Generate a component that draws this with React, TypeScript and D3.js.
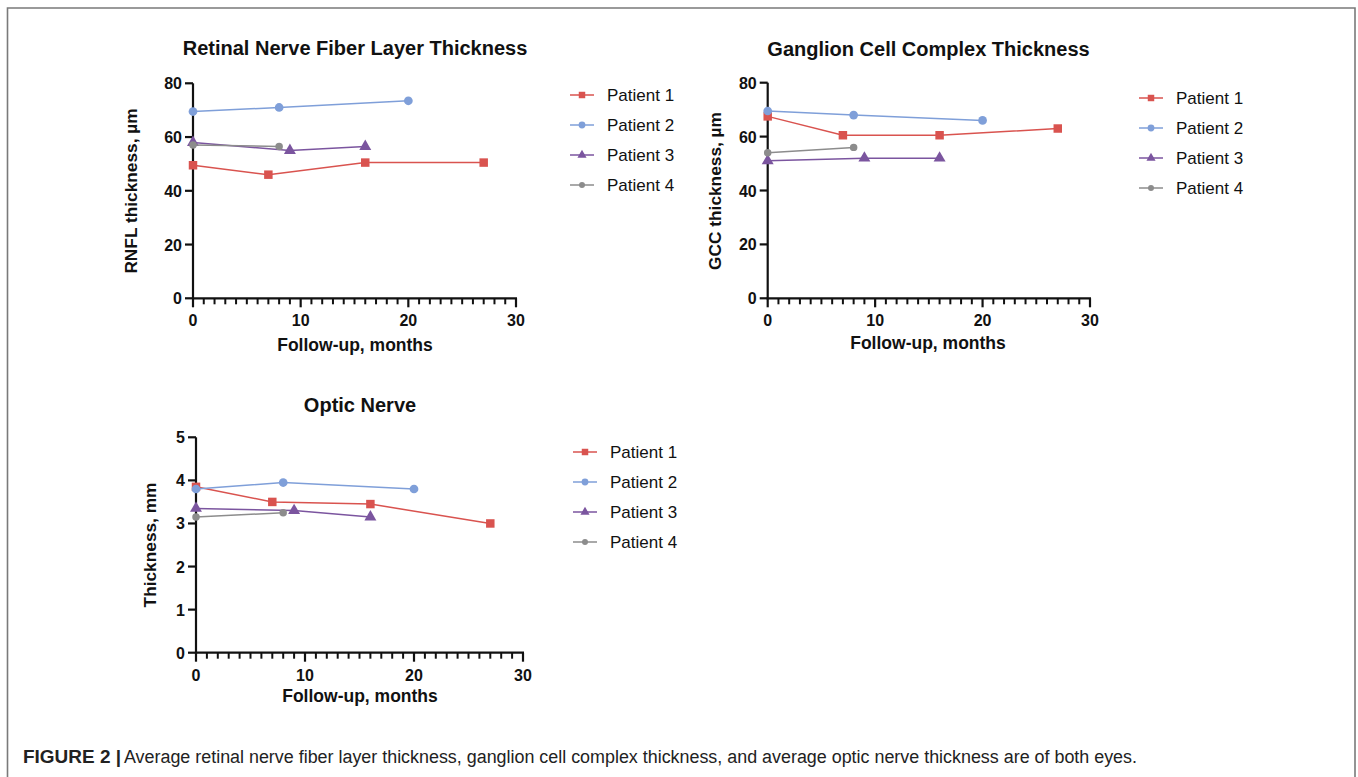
import React from 'react';
import * as d3 from 'd3';

const patients = ['Patient 1', 'Patient 2', 'Patient 3', 'Patient 4'];
const monthsP1 = [0, 7, 16, 27];
const monthsP2 = [0, 8, 20];
const monthsP3 = [0, 9, 16];
const monthsP4 = [0, 8];

const rnflP1 = [49.5, 46, 50.5, 50.5];
const rnflP2 = [69.5, 71, 73.5];
const rnflP3 = [58, 55, 56.5];
const rnflP4 = [57, 56.5];

const gccP1 = [67.5, 60.5, 60.5, 63];
const gccP2 = [69.5, 68, 66];
const gccP3 = [51, 52, 52];
const gccP4 = [54, 56];

const onP1 = [3.85, 3.5, 3.45, 3.0];
const onP2 = [3.8, 3.95, 3.8];
const onP3 = [3.35, 3.3, 3.15];
const onP4 = [3.15, 3.25];

const xMajorTicks = [0, 10, 20, 30];
const thicknessTicks = [0, 20, 40, 60, 80];
const opticTicks = [0, 1, 2, 3, 4, 5];

const captionBold = 'FIGURE 2 |';
const captionText =
  'Average retinal nerve fiber layer thickness, ganglion cell complex thickness, and average optic nerve thickness are of both eyes.';

const COLORS = ['#D9534F', '#7F9FD9', '#7B559F', '#8C8C8C'];
const SYMBOLS = [d3.symbolSquare, d3.symbolCircle, d3.symbolTriangle, d3.symbolCircle];
const SIZES = [72, 60, 62, 44];
const LEG_SIZES = [42, 36, 36, 28];
const FONT = "'Liberation Sans', Arial, Helvetica, sans-serif";

type Series = { xs: number[]; ys: number[] };

type PanelProps = {
  title: string;
  yLabel: string;
  series: Series[];
  yTicks: number[];
  x0: number;
  x1: number;
  yTop: number;
  yBottom: number;
  titleX: number;
  titleY: number;
  xLabelX: number;
  xLabelY: number;
  yLabelX: number;
  yLabelY: number;
  legX: number;
  legY: number;
};

function Panel(p: PanelProps) {
  const x = d3.scaleLinear().domain([0, 30]).range([p.x0, p.x1]);
  const y = d3
    .scaleLinear()
    .domain([0, p.yTicks[p.yTicks.length - 1]])
    .range([p.yBottom, p.yTop]);
  const minor = x.ticks(30).filter((t) => !xMajorTicks.includes(t));
  const line = d3
    .line<[number, number]>()
    .x((d) => x(d[0]))
    .y((d) => y(d[1]));
  return (
    <g fontFamily={FONT}>
      <text x={p.titleX} y={p.titleY} textAnchor="middle" fontWeight="bold" fontSize={20} fill="#111">
        {p.title}
      </text>
      {/* axes */}
      <line x1={p.x0} x2={p.x0} y1={p.yTop} y2={p.yBottom + 1} stroke="#111" strokeWidth={2.2} />
      <line x1={p.x0 - 1} x2={p.x1 + 1} y1={p.yBottom} y2={p.yBottom} stroke="#111" strokeWidth={2.2} />
      {p.yTicks.map((t) => (
        <g key={'y' + t}>
          <line x1={p.x0 - 8} x2={p.x0} y1={y(t)} y2={y(t)} stroke="#111" strokeWidth={2.2} />
          <text x={p.x0 - 11} y={y(t) + 6} textAnchor="end" fontWeight="bold" fontSize={16} fill="#111">
            {t}
          </text>
        </g>
      ))}
      {xMajorTicks.map((t) => (
        <g key={'x' + t}>
          <line x1={x(t)} x2={x(t)} y1={p.yBottom} y2={p.yBottom + 9} stroke="#111" strokeWidth={2.2} />
          <text x={x(t)} y={p.yBottom + 28} textAnchor="middle" fontWeight="bold" fontSize={16} fill="#111">
            {t}
          </text>
        </g>
      ))}
      {minor.map((t) => (
        <line key={'m' + t} x1={x(t)} x2={x(t)} y1={p.yBottom} y2={p.yBottom + 6} stroke="#111" strokeWidth={2} />
      ))}
      <text x={p.xLabelX} y={p.xLabelY} textAnchor="middle" fontWeight="bold" fontSize={17.5} fill="#111">
        Follow-up, months
      </text>
      <text
        transform={`translate(${p.yLabelX},${p.yLabelY}) rotate(-90)`}
        textAnchor="middle"
        dominantBaseline="central"
        fontWeight="bold"
        fontSize={17.3}
        fill="#111"
      >
        {p.yLabel}
      </text>
      {/* series */}
      {p.series.map((s, i) => {
        const pts = s.xs.map((v, j) => [v, s.ys[j]] as [number, number]);
        const sym = d3.symbol().type(SYMBOLS[i]).size(SIZES[i])();
        return (
          <g key={'s' + i}>
            <path d={line(pts) || ''} fill="none" stroke={COLORS[i]} strokeWidth={1.5} />
            {pts.map((d, j) => (
              <path key={j} d={sym || ''} transform={`translate(${x(d[0])},${y(d[1])})`} fill={COLORS[i]} />
            ))}
          </g>
        );
      })}
      {/* legend */}
      {patients.map((name, i) => {
        const ly = p.legY + i * 30;
        const sym = d3.symbol().type(SYMBOLS[i]).size(LEG_SIZES[i])();
        return (
          <g key={'l' + i}>
            <line x1={p.legX} x2={p.legX + 24} y1={ly} y2={ly} stroke={COLORS[i]} strokeWidth={1.5} />
            <path d={sym || ''} transform={`translate(${p.legX + 12},${ly})`} fill={COLORS[i]} />
            <text x={p.legX + 37} y={ly + 6} fontSize={17} fill="#111">
              {name}
            </text>
          </g>
        );
      })}
    </g>
  );
}

export default function App() {
  const rnfl: Series[] = [
    { xs: monthsP1, ys: rnflP1 },
    { xs: monthsP2, ys: rnflP2 },
    { xs: monthsP3, ys: rnflP3 },
    { xs: monthsP4, ys: rnflP4 },
  ];
  const gcc: Series[] = [
    { xs: monthsP1, ys: gccP1 },
    { xs: monthsP2, ys: gccP2 },
    { xs: monthsP3, ys: gccP3 },
    { xs: monthsP4, ys: gccP4 },
  ];
  const on: Series[] = [
    { xs: monthsP1, ys: onP1 },
    { xs: monthsP2, ys: onP2 },
    { xs: monthsP3, ys: onP3 },
    { xs: monthsP4, ys: onP4 },
  ];
  return (
    <div style={{ position: 'absolute', left: 0, top: 0 }}>
      <svg width={1358} height={777} style={{ display: 'block', background: '#fff' }}>
        <rect x={0} y={0} width={1358} height={777} fill="#fff" />
        <path d="M7.5,790 L7.5,8 L1355,8 L1355,790" fill="none" stroke="#7a7a7a" strokeWidth={1.6} />
        <Panel
          title="Retinal Nerve Fiber Layer Thickness"
          yLabel="RNFL thickness, µm"
          series={rnfl}
          yTicks={thicknessTicks}
          x0={193}
          x1={516}
          yTop={83.3}
          yBottom={298.3}
          titleX={355}
          titleY={55}
          xLabelX={355}
          xLabelY={351}
          yLabelX={131}
          yLabelY={191}
          legX={570}
          legY={95}
        />
        <Panel
          title="Ganglion Cell Complex Thickness"
          yLabel="GCC thickness, µm"
          series={gcc}
          yTicks={thicknessTicks}
          x0={767.7}
          x1={1090}
          yTop={82.7}
          yBottom={298.3}
          titleX={928.5}
          titleY={56}
          xLabelX={928}
          xLabelY={349}
          yLabelX={715}
          yLabelY={191}
          legX={1139}
          legY={98}
        />
        <Panel
          title="Optic Nerve"
          yLabel="Thickness, mm"
          series={on}
          yTicks={opticTicks}
          x0={196}
          x1={523}
          yTop={437.3}
          yBottom={652.7}
          titleX={360}
          titleY={412}
          xLabelX={360}
          xLabelY={701.5}
          yLabelX={150}
          yLabelY={545}
          legX={573}
          legY={452}
        />
        <g fontFamily={FONT} fill="#222">
          <text x={23} y={763} fontWeight="bold" fontSize={18} textLength={98} lengthAdjust="spacingAndGlyphs">
            {captionBold}
          </text>
          <text x={124} y={763} fontSize={18} textLength={1013} lengthAdjust="spacingAndGlyphs">
            {captionText}
          </text>
        </g>
      </svg>
    </div>
  );
}
